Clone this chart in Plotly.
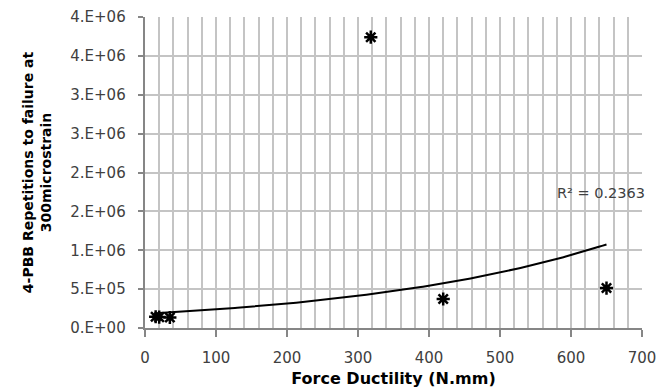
import numpy as np
import plotly.graph_objects as go

# Data
force_ductility = [15, 20, 35, 318, 420, 650]
repetitions = [1.45e5, 1.40e5, 1.35e5, 3.74e6, 3.73e5, 5.14e5]

y_tick_vals = [0, 5e5, 1e6, 1.5e6, 2e6, 2.5e6, 3e6, 3.5e6, 4e6]
y_tick_text = ["0.E+00", "5.E+05", "1.E+06", "2.E+06", "2.E+06", "3.E+06", "3.E+06", "4.E+06", "4.E+06"]
r2_label = "R² = 0.2363"

# Exponential trendline (Excel-style) fitted from the data
xs = np.array(force_ductility, dtype=float)
ys = np.array(repetitions, dtype=float)
b, ln_a = np.polyfit(xs, np.log(ys), 1)
x_fit = np.linspace(xs.min(), xs.max(), 200)
y_fit = np.exp(ln_a) * np.exp(b * x_fit)

FONT = "'DejaVu Sans', sans-serif"
GRID = "#c4c4c4"
AXIS = "#868686"
TXT = "#404040"
NB = "\u00a0"

fig = go.Figure()
fig.add_trace(go.Scatter(x=x_fit, y=y_fit, mode="lines",
                         line=dict(color="black", width=2), hoverinfo="skip",
                         showlegend=False))
fig.add_trace(go.Scatter(x=force_ductility, y=repetitions, mode="markers",
                         marker=dict(symbol="asterisk-open", size=11, color="black",
                                     line=dict(color="black", width=2.5)),
                         showlegend=False))

fig.add_annotation(x=642, y=1.735e6, xref="x", yref="y", text=r2_label,
                   showarrow=False, font=dict(family=FONT, size=14.5, color=TXT))

fig.update_layout(
    width=672, height=391,
    margin=dict(l=145, r=30, t=17, b=63),
    paper_bgcolor="white", plot_bgcolor="white",
    font=dict(family=FONT, size=15, color=TXT),
    xaxis=dict(
        range=[0, 700], dtick=100, tick0=0, automargin=False,
        showgrid=True, gridcolor=GRID, gridwidth=1.5,
        minor=dict(dtick=20, showgrid=True, gridcolor=GRID, gridwidth=1.5),
        showline=True, linecolor=AXIS, linewidth=1.5,
        ticks="outside", ticklen=7, tickcolor=AXIS, tickwidth=1.5,
        ticklabelstandoff=8,
        zeroline=False,
        title=dict(text="<b>Force Ductility (N.mm)</b>", font=dict(size=16, color="#000000"), standoff=7),
        tickfont=dict(size=15, color=TXT),
    ),
    yaxis=dict(
        range=[0, 4e6], tickvals=y_tick_vals, ticktext=[t + NB * 2 for t in y_tick_text],
        automargin=False,
        showgrid=True, gridcolor=GRID, gridwidth=1.5,
        showline=True, linecolor=AXIS, linewidth=1.5,
        ticks="outside", ticklen=5, tickcolor=AXIS, tickwidth=1.5,
        zeroline=False,
        title=dict(text="<b>4-PBB Repetitions to failure at<br>300microstrain</b>",
                   font=dict(size=14, color="#000000"), standoff=15),
        tickfont=dict(size=15, color=TXT),
    ),
)

fig.write_html("out.html", config={"displayModeBar": False},
               post_script="document.body.style.margin='0';")
